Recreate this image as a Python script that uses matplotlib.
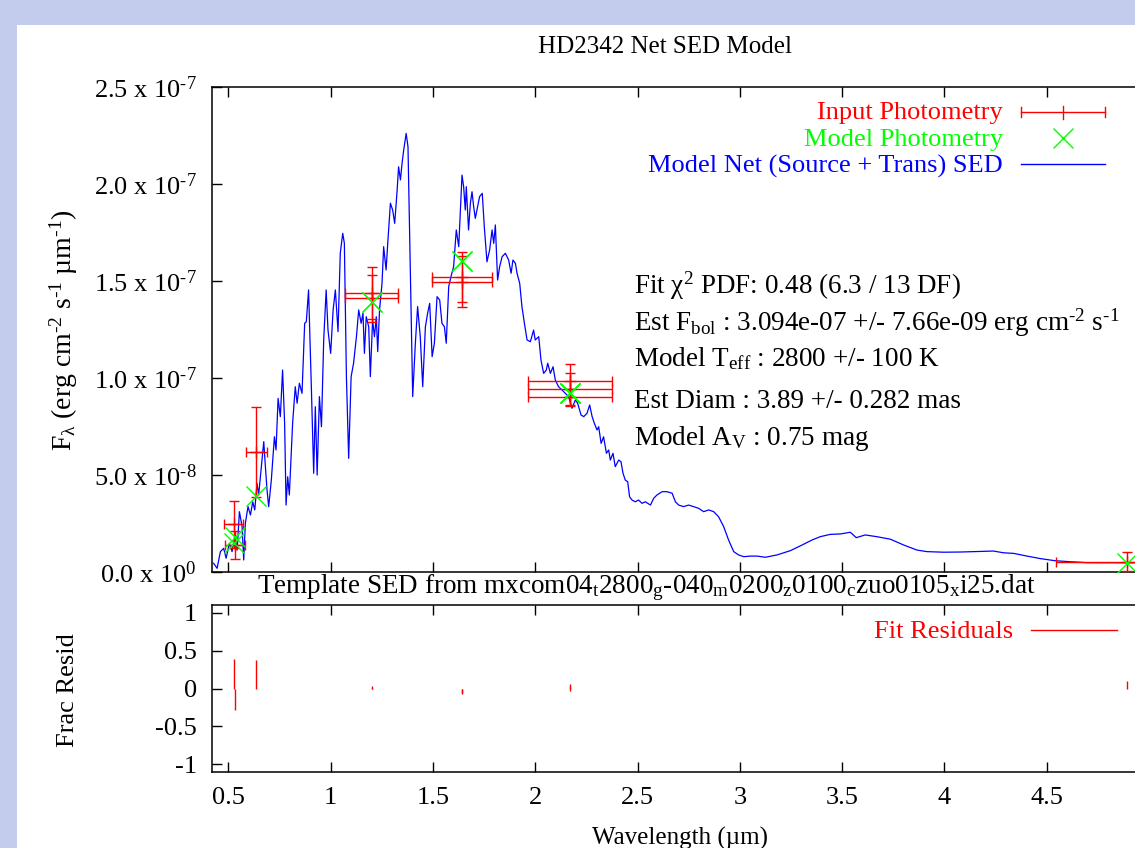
import matplotlib
matplotlib.use("Agg")
import matplotlib.pyplot as plt
from matplotlib.lines import Line2D
from matplotlib.patches import Rectangle

plt.rcParams['font.family'] = ['Liberation Serif', 'DejaVu Serif']
plt.rcParams['mathtext.fontset'] = 'custom'
plt.rcParams['mathtext.rm'] = 'Liberation Serif'
plt.rcParams['mathtext.it'] = 'Liberation Serif:italic'
plt.rcParams['mathtext.default'] = 'regular'
plt.rcParams['axes.unicode_minus'] = False

W, H = 1135, 848
FS = 19       # most texts
FS_T = 18     # title and x label
RED, GREEN, BLUE = '#ff0000', '#00ff00', '#0000ff'

# model net SED (flux in 1e-7 erg cm-2 s-1 um-1)
sed_wave = [
    0.428, 0.445, 0.461, 0.477, 0.489, 0.505, 0.518, 0.531, 0.543, 0.554,
    0.567, 0.575, 0.583, 0.596, 0.608, 0.619, 0.629, 0.640, 0.648, 0.661,
    0.673, 0.681, 0.689, 0.697, 0.710, 0.725, 0.733, 0.743, 0.754, 0.765,
    0.775, 0.782, 0.790, 0.798, 0.814, 0.827, 0.836, 0.847, 0.860, 0.873,
    0.881, 0.892, 0.906, 0.917, 0.925, 0.934, 0.945, 0.955, 0.966, 0.978,
    0.987, 1.000, 1.012, 1.023, 1.036, 1.047, 1.059, 1.067, 1.077, 1.088,
    1.100, 1.112, 1.126, 1.137, 1.149, 1.158, 1.165, 1.174, 1.186, 1.194,
    1.205, 1.214, 1.223, 1.230, 1.239, 1.251, 1.259, 1.271, 1.279, 1.292,
    1.303, 1.313, 1.325, 1.332, 1.341, 1.349, 1.357, 1.369, 1.378, 1.390,
    1.401, 1.414, 1.425, 1.438, 1.450, 1.463, 1.474, 1.484, 1.496, 1.507,
    1.520, 1.533, 1.544, 1.556, 1.565, 1.577, 1.588, 1.601, 1.614, 1.626,
    1.634, 1.642, 1.650, 1.658, 1.663, 1.674, 1.683, 1.691, 1.699, 1.707,
    1.718, 1.728, 1.741, 1.751, 1.764, 1.777, 1.789, 1.797, 1.805, 1.816,
    1.826, 1.838, 1.854, 1.870, 1.882, 1.891, 1.903, 1.911, 1.924, 1.935,
    1.947, 1.960, 1.976, 1.992, 2.000, 2.017, 2.028, 2.041, 2.054, 2.061,
    2.074, 2.087, 2.098, 2.114, 2.131, 2.147, 2.163, 2.180, 2.196, 2.207,
    2.224, 2.237, 2.253, 2.266, 2.278, 2.289, 2.302, 2.310, 2.322, 2.334,
    2.348, 2.359, 2.367, 2.380, 2.391, 2.408, 2.419, 2.429, 2.440, 2.452,
    2.461, 2.473, 2.489, 2.505, 2.522, 2.538, 2.563, 2.579, 2.595, 2.620,
    2.644, 2.669, 2.685, 2.701, 2.725, 2.750, 2.774, 2.799, 2.823, 2.848,
    2.872, 2.896, 2.921, 2.945, 2.970, 2.994, 3.019, 3.051, 3.084, 3.125,
    3.182, 3.247, 3.304, 3.353, 3.393, 3.442, 3.491, 3.540, 3.569, 3.613,
    3.670, 3.736, 3.801, 3.866, 3.915, 3.996, 4.078, 4.143, 4.240, 4.289,
    4.338, 4.404, 4.469, 4.542, 4.615, 4.697, 4.795, 4.892, 5.000]
sed_flux = [
    0.045, 0.019, 0.105, 0.122, 0.071, 0.148, 0.105, 0.182, 0.113, 0.311,
    0.234, 0.062, 0.251, 0.337, 0.294, 0.362, 0.320, 0.457, 0.397, 0.543,
    0.672, 0.543, 0.423, 0.337, 0.474, 0.697, 0.629, 0.895, 0.801, 1.041,
    0.766, 0.345, 0.491, 0.397, 0.766, 0.955, 0.870, 0.973, 0.921, 1.282,
    1.290, 1.454, 0.938, 0.509, 0.852, 0.500, 0.904, 0.749, 1.196, 1.454,
    1.247, 1.127, 1.351, 1.454, 1.239, 1.643, 1.746, 1.694, 1.007, 0.586,
    1.007, 1.076, 1.213, 1.351, 1.282, 1.334, 1.127, 1.316, 1.264, 1.007,
    1.299, 1.213, 1.316, 1.136, 1.351, 1.488, 1.677, 1.557, 1.694, 1.901,
    1.866, 1.797, 1.969, 2.089, 2.021, 2.107, 2.175, 2.261, 2.192, 1.522,
    0.904, 1.179, 1.368, 1.213, 0.955, 1.264, 1.334, 1.385, 1.110, 1.179,
    1.419, 1.402, 1.282, 1.264, 1.179, 1.471, 1.522, 1.574, 1.763, 1.677,
    1.866, 2.046, 1.986, 1.866, 1.986, 1.763, 1.901, 1.960, 1.883, 1.823,
    1.883, 1.935, 1.952, 1.780, 1.599, 1.660, 1.763, 1.694, 1.789, 1.505,
    1.574, 1.625, 1.643, 1.608, 1.540, 1.608, 1.591, 1.540, 1.488, 1.368,
    1.282, 1.196, 1.187, 1.247, 1.196, 1.213, 1.093, 1.024, 1.041, 1.076,
    1.024, 1.058, 0.990, 0.955, 0.938, 0.921, 0.904, 0.844, 0.887, 0.870,
    0.809, 0.801, 0.818, 0.861, 0.801, 0.766, 0.732, 0.749, 0.663, 0.697,
    0.612, 0.629, 0.577, 0.612, 0.543, 0.577, 0.569, 0.509, 0.474, 0.465,
    0.388, 0.371, 0.362, 0.371, 0.354, 0.362, 0.345, 0.380, 0.397, 0.414,
    0.414, 0.406, 0.362, 0.345, 0.337, 0.345, 0.337, 0.328, 0.311, 0.320,
    0.311, 0.285, 0.234, 0.165, 0.105, 0.088, 0.079, 0.082, 0.082, 0.076,
    0.088, 0.110, 0.139, 0.165, 0.182, 0.194, 0.196, 0.205, 0.177, 0.191,
    0.182, 0.169, 0.139, 0.113, 0.105, 0.102, 0.103, 0.105, 0.108, 0.099,
    0.096, 0.082, 0.069, 0.058, 0.053, 0.048, 0.048, 0.048, 0.047]

# input photometry and model photometry
phot_wave = [0.526, 0.534, 0.637, 1.200, 1.200, 1.642, 1.642, 2.169, 2.169, 2.169, 4.894]
phot_werr = [0.045, 0.049, 0.053, 0.130, 0.130, 0.147, 0.147, 0.206, 0.206, 0.206, 0.350]
phot_flux = [0.245, 0.139, 0.620, 1.440, 1.411, 1.522, 1.497, 0.986, 0.942, 0.900, 0.053]
phot_ferr = [0.120, 0.070, 0.232, 0.134, 0.120, 0.130, 0.130, 0.086, 0.082, 0.045, 0.050]
model_flux = [0.149, 0.179, 0.390, 1.393, 1.393, 1.603, 1.603, 0.924, 0.924, 0.924, 0.048]
resid = [(f - m) / f for f, m in zip(phot_flux, model_flux)]

flux_ticks = [0, 0.5, 1.0, 1.5, 2.0, 2.5]
flux_ticklabels = [r'0.0 x 10$^{0}$', r'5.0 x 10$^{\text{-}8}$', r'1.0 x 10$^{\text{-}7}$',
                   r'1.5 x 10$^{\text{-}7}$', r'2.0 x 10$^{\text{-}7}$', r'2.5 x 10$^{\text{-}7}$']
wave_ticks = [0.5, 1, 1.5, 2, 2.5, 3, 3.5, 4, 4.5, 5]
wave_ticklabels = ['0.5', '1', '1.5', '2', '2.5', '3', '3.5', '4', '4.5', '']
resid_ticks = [1, 0.5, 0, -0.5, -1]
resid_ticklabels = ['1', '0.5', '0', '-0.5', '-1']

info_lines = [
    r'Fit χ$^{2}$ PDF: 0.48 (6.3 / 13 DF)',
    r'Est F$_{bol}$ : 3.094e-07 +/- 7.66e-09 erg cm$^{\text{-}2}$ s$^{\text{-}1}$',
    r'Model T$_{eff}$ : 2800 +/- 100 K',
    r'Est Diam : 3.89 +/- 0.282 mas',
    r'Model A$_{V}$ : 0.75 mag',
]
info_baselines = [294, 331, 366, 408, 445]


def fx(x):
    return x / W


def fy(y):
    return 1 - y / H


fig = plt.figure(figsize=(W / 100, H / 100), dpi=100, facecolor='#c4ccee')
fig.add_artist(Rectangle((fx(17), 0), 1, fy(25), transform=fig.transFigure,
                         facecolor='white', edgecolor='none', zorder=-10))

ax = fig.add_axes([fx(212), fy(572), 937 / W, 485 / H])
ax2 = fig.add_axes([fx(212), fy(772), 937 / W, 167 / H])

ax.plot(sed_wave, sed_flux, color=BLUE, lw=0.9, zorder=2)
ax.errorbar(phot_wave, phot_flux, xerr=phot_werr, yerr=phot_ferr, fmt='+',
            color=RED, ms=9, mew=1, elinewidth=1, capsize=3.6, capthick=1, zorder=3)
ax.plot(phot_wave, model_flux, 'x', color=GREEN, ms=14, mew=1, zorder=4)

ax2.vlines(phot_wave, 0, resid, color=RED, lw=1)

for a in (ax, ax2):
    a.set_xlim(0.42, 5.0)
    a.set_xticks(wave_ticks)
    a.tick_params(direction='in', length=7, width=1, top=True, right=True,
                  labelsize=FS, pad=11)
    for s in a.spines.values():
        s.set_linewidth(1.1)

ax.set_ylim(0, 2.5)
ax.set_yticks(flux_ticks)
ax.set_yticklabels(flux_ticklabels)
ax.tick_params(labelbottom=False)

ax2.set_ylim(-1.1, 1.1)
ax2.set_yticks(resid_ticks)
ax2.set_yticklabels(resid_ticklabels)
ax2.set_xticklabels(wave_ticklabels)

# titles and labels
fig.text(fx(665), fy(47), 'HD2342 Net SED Model', ha='center', va='center', fontsize=FS_T)
fig.text(fx(646), fy(588),
         r'Template SED from mxcom04$_{t}$2800$_{g}$-040$_{m}$0200$_{z}$0100$_{c}$zuo0105$_{x}$i25.dat',
         ha='center', va='center', fontsize=FS + 0.5)
fig.text(fx(64), fy(330), r'F$_{λ}$ (erg cm$^{\text{-}2}$ s$^{\text{-}1}$ µm$^{\text{-}1}$)',
         rotation=90, ha='center', va='center', fontsize=FS + 1)
fig.text(fx(68), fy(690), 'Frac Resid', rotation=90, ha='center', va='center', fontsize=FS)
fig.text(fx(680), fy(838), 'Wavelength (µm)', ha='center', va='center', fontsize=FS_T)

for line, yb in zip(info_lines, info_baselines):
    fig.text(fx(634), fy(yb), line, ha='left', va='baseline', fontsize=FS + 0.5)

# legend (gnuplot style: text right aligned, sample on the right)
fig.text(fx(1003), fy(119), 'Input Photometry', color=RED, ha='right', va='baseline', fontsize=FS)
fig.text(fx(1003), fy(146), 'Model Photometry', color=GREEN, ha='right', va='baseline', fontsize=FS)
fig.text(fx(1003), fy(172.5), 'Model Net (Source + Trans) SED', color=BLUE, ha='right',
         va='baseline', fontsize=FS)
fig.text(fx(1013), fy(638), 'Fit Residuals', color=RED, ha='right', va='baseline', fontsize=FS)

legend_lines = [
    Line2D([fx(1021), fx(1105)], [fy(112), fy(112)], color=RED, lw=1),
    Line2D([fx(1021), fx(1021)], [fy(107), fy(117)], color=RED, lw=1),
    Line2D([fx(1105), fx(1105)], [fy(107), fy(117)], color=RED, lw=1),
    Line2D([fx(1063), fx(1063)], [fy(105.5), fy(118.5)], color=RED, lw=1),
    Line2D([fx(1063)], [fy(138)], color=GREEN, marker='x', ms=14, mew=1, ls='none'),
    Line2D([fx(1021), fx(1105)], [fy(164), fy(164)], color=BLUE, lw=1),
    Line2D([fx(1031), fx(1117)], [fy(629.5), fy(629.5)], color=RED, lw=1),
]
for ln in legend_lines:
    ln.set_transform(fig.transFigure)
    fig.add_artist(ln)

fig.savefig('out.png', dpi=100, facecolor=fig.get_facecolor())
